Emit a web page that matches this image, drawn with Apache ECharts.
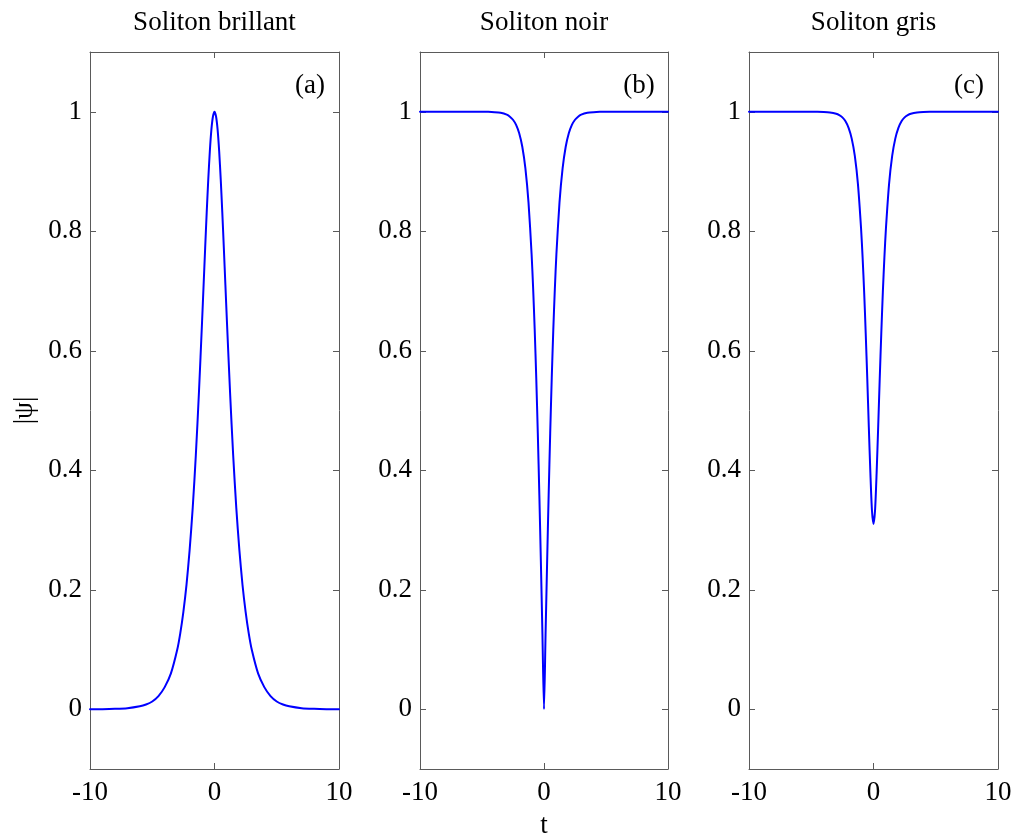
<!DOCTYPE html>
<html>
<head>
<meta charset="utf-8">
<script src="https://cdn.jsdelivr.net/npm/echarts@6/dist/echarts.min.js"></script>
<style>
html,body{margin:0;padding:0;background:#fff;}
#chart{width:1019px;height:838px;}
</style>
</head>
<body>
<div id="chart"></div>
<script>
const tValues = [-10,-9,-8,-7,-6,-5.5,-5,-4.5,-4,-3.5,-3,-2.75,-2.5,-2.25,-2,-1.75,-1.5,-1.25,-1,-0.875,-0.75,-0.625,-0.5,-0.375,-0.25,-0.125,0,0.125,0.25,0.375,0.5,0.625,0.75,0.875,1,1.25,1.5,1.75,2,2.25,2.5,2.75,3,3.5,4,4.5,5,5.5,6,7,8,9,10];
const brightValues = [0.0001,0.0002,0.0007,0.0018,0.005,0.008,0.013,0.022,0.037,0.060,0.099,0.127,0.163,0.208,0.266,0.337,0.425,0.530,0.648,0.710,0.772,0.832,0.887,0.934,0.970,0.992,1,0.992,0.970,0.934,0.887,0.832,0.772,0.710,0.648,0.530,0.425,0.337,0.266,0.208,0.163,0.127,0.099,0.060,0.037,0.022,0.013,0.008,0.005,0.0018,0.0007,0.0002,0.0001];
const darkValues = [1,1,1,1,1,1,0.9999,0.9998,0.9993,0.9982,0.9951,0.9918,0.9866,0.9780,0.9640,0.9414,0.9051,0.8483,0.7616,0.7039,0.6351,0.5546,0.4621,0.3584,0.2449,0.1244,0,0.1244,0.2449,0.3584,0.4621,0.5546,0.6351,0.7039,0.7616,0.8483,0.9051,0.9414,0.9640,0.9780,0.9866,0.9918,0.9951,0.9982,0.9993,0.9998,0.9999,1,1,1,1,1,1];
const greyValues = [1,1,1,1,1,1,1,0.9999,0.9996,0.9988,0.9967,0.9944,0.9906,0.984,0.973,0.955,0.926,0.879,0.805,0.756,0.698,0.629,0.553,0.472,0.395,0.333,0.31,0.333,0.395,0.472,0.553,0.629,0.698,0.756,0.805,0.879,0.926,0.955,0.973,0.984,0.9906,0.9944,0.9967,0.9988,0.9996,0.9999,1,1,1,1,1,1,1];
const yTicks = [0,0.2,0.4,0.6,0.8,1];
const xTicks = [-10,0,10];
const panelTitles = ['Soliton brillant','Soliton noir','Soliton gris'];
const panelTags = ['(a)','(b)','(c)'];
const seriesList = [brightValues, darkValues, greyValues];

const FONT = "'Liberation Serif','Times New Roman',serif";
const AX = '#5a5a5a';
const grids = [
  {left:90, top:52, width:249, height:717},
  {left:420, top:52, width:248, height:717},
  {left:749, top:52, width:249, height:717}
];

const option = {
  backgroundColor:'#fff',
  animation:false,
  grid: grids.map(g => Object.assign({containLabel:false, outerBoundsMode:'none'}, g)),
  xAxis: [], yAxis: [], series: [], graphic: []
};

grids.forEach((g, i) => {
  option.xAxis.push({
    type:'value', gridIndex:i, position:'bottom', min:-10, max:10, interval:10,
    axisLine:{show:true, onZero:false, lineStyle:{color:AX, width:1}},
    axisTick:{show:true, inside:true, length:6, lineStyle:{color:AX}},
    axisLabel:{show:true, margin:10, color:'#000', fontFamily:FONT, fontSize:27,
      customValues: xTicks, formatter: v => String(v)},
    splitLine:{show:false},
    name: i === 1 ? 't' : '', nameLocation:'middle', nameGap:43, nameMoveOverlap:false,
    nameTextStyle:{color:'#000', fontFamily:FONT, fontSize:27}
  });
  option.xAxis.push({
    type:'value', gridIndex:i, position:'top', min:-10, max:10, interval:10,
    axisLine:{show:true, onZero:false, lineStyle:{color:AX, width:1}},
    axisTick:{show:true, inside:true, length:6, lineStyle:{color:AX}},
    axisLabel:{show:false}, splitLine:{show:false}
  });
  option.yAxis.push({
    type:'value', gridIndex:i, position:'left', min:-0.1, max:1.1,
    axisLine:{show:true, onZero:false, lineStyle:{color:AX, width:1}},
    axisTick:{show:true, inside:true, length:6, customValues:yTicks, lineStyle:{color:AX}},
    axisLabel:{show:true, margin:8, color:'#000', fontFamily:FONT, fontSize:27,
      customValues:yTicks, formatter: v => String(Math.round(v*10)/10)},
    splitLine:{show:false},
    name: i === 0 ? '|\u03c8|' : '', nameLocation:'middle', nameGap:52, nameMoveOverlap:false,
    nameTextStyle:{color:'#000', fontFamily:FONT, fontSize:27}
  });
  option.yAxis.push({
    type:'value', gridIndex:i, position:'right', min:-0.1, max:1.1,
    axisLine:{show:true, onZero:false, lineStyle:{color:AX, width:1}},
    axisTick:{show:true, inside:true, length:6, customValues:yTicks, lineStyle:{color:AX}},
    axisLabel:{show:false}, splitLine:{show:false}
  });
  option.series.push({
    type:'line', xAxisIndex:2*i, yAxisIndex:2*i, showSymbol:false, symbol:'none',
    smooth:0.25, clip:true,
    lineStyle:{color:'#0000ff', width:2, join:'round', cap:'round'},
    data: tValues.map((t, k) => [t, seriesList[i][k]])
  });
  option.graphic.push({
    type:'text', x: g.left + g.width/2, y: 23,
    style:{text: panelTitles[i], fill:'#000', font:"27px " + FONT, textAlign:'center', textVerticalAlign:'middle'}
  });
  option.graphic.push({
    type:'text', x: g.left + g.width - 29, y: 86,
    style:{text: panelTags[i], fill:'#000', font:"27px " + FONT, textAlign:'center', textVerticalAlign:'middle'}
  });
});

const chart = echarts.init(document.getElementById('chart'), null, {renderer:'canvas'});
chart.setOption(option);
</script>
</body>
</html>
